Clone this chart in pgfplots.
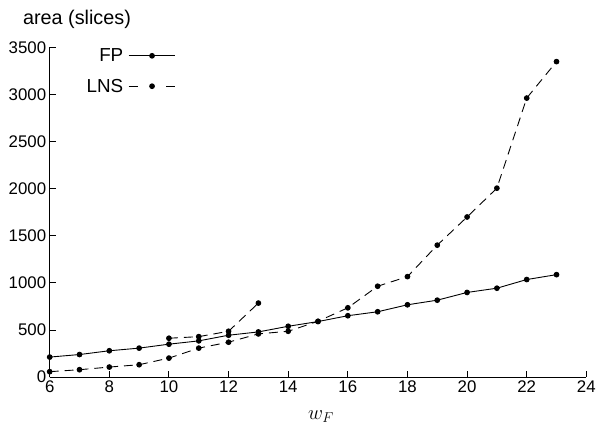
\documentclass[border=0pt]{standalone}
\usepackage{pgfplots}
\pgfplotsset{compat=1.18}
\usepackage{fontspec}
\setmainfont{Liberation Sans}
\begin{document}
\begin{tikzpicture}
\path (-50bp,-51.5bp) rectangle (549bp,379.5bp);
\begin{axis}[
  at={(0,0)}, anchor=south west,
  scale only axis, width=540bp, height=331.8bp,
  xmin=6, xmax=24, ymin=0, ymax=3500,
  axis lines=left, axis line style={-, line width=0.9bp},
  tick align=inside, major tick length=6bp,
  tick style={line width=0.9bp, black},
  xtick={6,8,...,24}, ytick={0,500,...,3500},
  /pgf/number format/assume math mode=true,
  /pgf/number format/1000 sep={},
  tick label style={font=\fontsize{17}{19}\selectfont},
  clip=false,
  legend style={draw=none, fill=none, font=\fontsize{19}{22}\selectfont,
    at={(axis description cs:0.241,1.009)}, anchor=north east,
    row sep=12bp, column sep=3bp, cells={anchor=east}},
  legend plot pos=right,
  legend image code/.code={\draw[#1,mark repeat=2,mark phase=2] plot coordinates {(0bp,0bp) (23.5bp,0bp) (47bp,0bp)};},
  every axis plot/.append style={black, line width=0.9bp, mark=*, mark size=2.4bp, mark options={solid}},
]
\addplot[solid] coordinates {
(6,213) (7,240) (8,280) (9,308) (10,350) (11,385) (12,445) (13,480) (14,540)
(15,590) (16,652) (17,694) (18,768) (19,817) (20,899) (21,944) (22,1036) (23,1088)};
\addlegendentry{FP}
\addplot[dash pattern=on 9bp off 6bp, legend image post style={dash pattern=on 9bp off 29bp}] coordinates {
(6,58) (7,79) (8,107) (9,132) (10,202) (11,308) (12,371) (13,459) (14,487)
(15,593) (16,736) (17,965) (18,1067) (19,1401) (20,1700) (21,2006) (22,2962) (23,3349)};
\addlegendentry{LNS}
\addplot[dash pattern=on 9bp off 6bp, forget plot] coordinates {
(10,413) (11,430) (12,487) (13,786)};
\node[anchor=base west, inner sep=0pt, font=\fontsize{20}{24}\selectfont] at (axis description cs:-0.05,1.0684) {area (slices)};
\node[anchor=base west, inner sep=0pt, font=\fontsize{21}{24}\selectfont] at (axis description cs:0.481,-0.1296) {$w_F$};
\end{axis}
\end{tikzpicture}
\end{document}
